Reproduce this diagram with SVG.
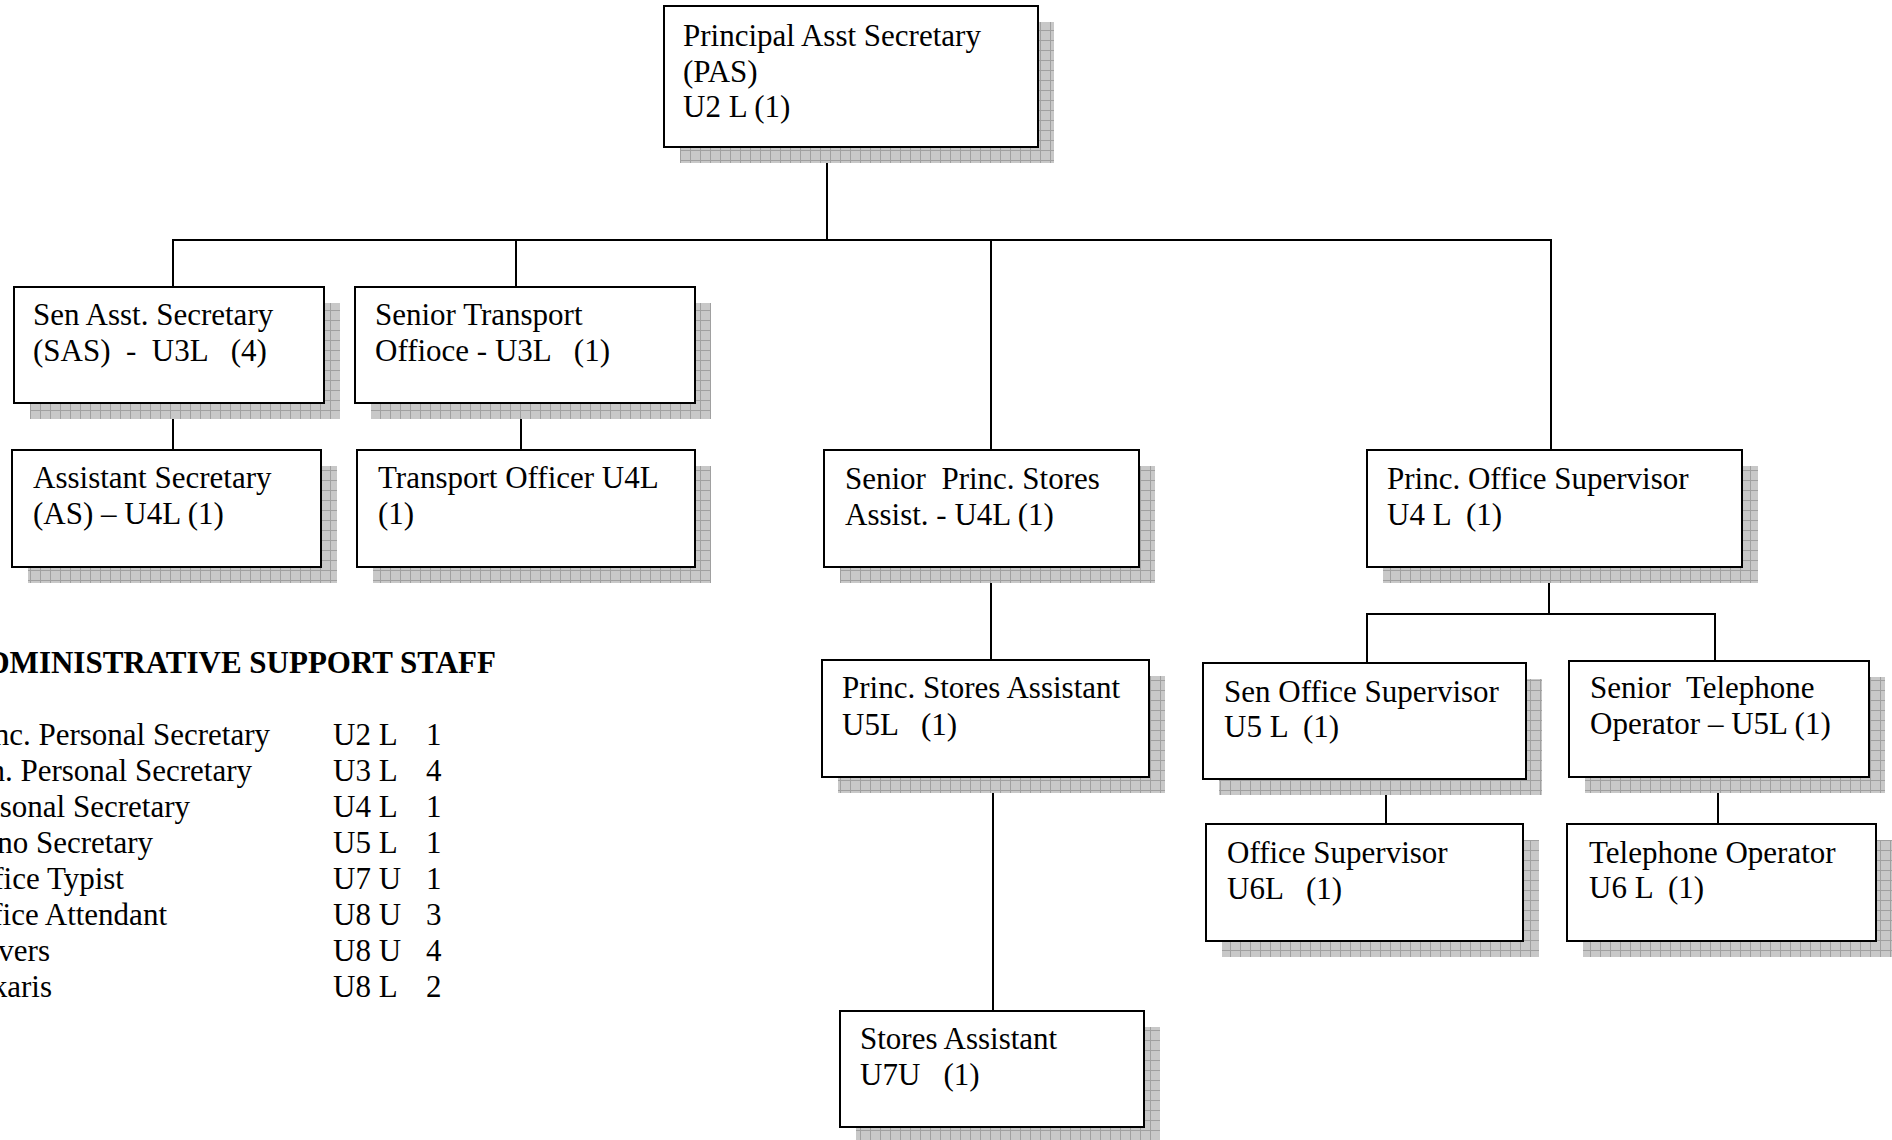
<svg xmlns="http://www.w3.org/2000/svg" width="1892" height="1140" viewBox="0 0 1892 1140">
<defs>
<pattern id="shadowPat" patternUnits="userSpaceOnUse" width="10" height="10">
<rect width="10" height="10" fill="#c8c8c8"/>
<path d="M0 0.5H10M0.5 0V10" stroke="#a0a0a0" stroke-width="1" fill="none"/>
</pattern>
</defs>
<style>
.bg{fill:#ffffff}
.shadow{fill:url(#shadowPat)}
.box{fill:#ffffff;stroke:#000000;stroke-width:2}
.t{font-family:"Liberation Serif","Times New Roman",serif;font-size:31px;fill:#000000;white-space:pre}
.h{font-family:"Liberation Serif","Times New Roman",serif;font-size:31px;font-weight:bold;fill:#000000;white-space:pre}
.conn line{stroke:#000000;stroke-width:2}
</style>
<rect class="bg" x="0" y="0" width="1892" height="1140"/>

<g id="connectors" class="conn">
<line x1="827" y1="147" x2="827" y2="240"/>
<line x1="172" y1="240" x2="1552" y2="240"/>
<line x1="173" y1="240" x2="173" y2="287"/>
<line x1="516" y1="240" x2="516" y2="287"/>
<line x1="991" y1="240" x2="991" y2="450"/>
<line x1="1551" y1="240" x2="1551" y2="450"/>
<line x1="173" y1="403" x2="173" y2="450"/>
<line x1="521" y1="403" x2="521" y2="450"/>
<line x1="991" y1="567" x2="991" y2="660"/>
<line x1="993" y1="777" x2="993" y2="1011"/>
<line x1="1549" y1="567" x2="1549" y2="614"/>
<line x1="1366" y1="614" x2="1716" y2="614"/>
<line x1="1367" y1="614" x2="1367" y2="663"/>
<line x1="1715" y1="614" x2="1715" y2="661"/>
<line x1="1386" y1="776" x2="1386" y2="824"/>
<line x1="1718" y1="777" x2="1718" y2="824"/>
</g>

<g id="node-pas">
<rect class="shadow" x="680" y="22" width="374" height="141"/>
<rect class="box" x="664" y="6" width="374" height="141"/>
<text class="t" x="683" y="46">Principal Asst Secretary</text>
<text class="t" x="683" y="81.5">(PAS)</text>
<text class="t" x="683" y="117">U2 L (1)</text>
</g>

<g id="node-sas">
<rect class="shadow" x="30" y="303" width="310" height="116"/>
<rect class="box" x="14" y="287" width="310" height="116"/>
<text class="t" x="33" y="325">Sen Asst. Secretary</text>
<text class="t" x="33" y="361">(SAS)  -  U3L   (4)</text>
</g>

<g id="node-sto">
<rect class="shadow" x="371" y="303" width="340" height="116"/>
<rect class="box" x="355" y="287" width="340" height="116"/>
<text class="t" x="375" y="325">Senior Transport</text>
<text class="t" x="375" y="361">Offioce - U3L   (1)</text>
</g>

<g id="node-as">
<rect class="shadow" x="28" y="466" width="309" height="117"/>
<rect class="box" x="12" y="450" width="309" height="117"/>
<text class="t" x="33" y="488">Assistant Secretary</text>
<text class="t" x="33" y="524">(AS) – U4L (1)</text>
</g>

<g id="node-to">
<rect class="shadow" x="373" y="466" width="338" height="117"/>
<rect class="box" x="357" y="450" width="338" height="117"/>
<text class="t" x="378" y="488">Transport Officer U4L</text>
<text class="t" x="378" y="524">(1)</text>
</g>

<g id="node-spsa">
<rect class="shadow" x="840" y="466" width="315" height="117"/>
<rect class="box" x="824" y="450" width="315" height="117"/>
<text class="t" x="845" y="489">Senior  Princ. Stores</text>
<text class="t" x="845" y="525">Assist. - U4L (1)</text>
</g>

<g id="node-pos">
<rect class="shadow" x="1383" y="466" width="375" height="117"/>
<rect class="box" x="1367" y="450" width="375" height="117"/>
<text class="t" x="1387" y="489">Princ. Office Supervisor</text>
<text class="t" x="1387" y="525">U4 L  (1)</text>
</g>

<g id="node-psa">
<rect class="shadow" x="838" y="676" width="327" height="117"/>
<rect class="box" x="822" y="660" width="327" height="117"/>
<text class="t" x="842" y="698">Princ. Stores Assistant</text>
<text class="t" x="842" y="735">U5L   (1)</text>
</g>

<g id="node-sos">
<rect class="shadow" x="1219" y="679" width="323" height="116"/>
<rect class="box" x="1203" y="663" width="323" height="116"/>
<text class="t" x="1224" y="702">Sen Office Supervisor</text>
<text class="t" x="1224" y="737">U5 L  (1)</text>
</g>

<g id="node-sto2">
<rect class="shadow" x="1585" y="677" width="300" height="116"/>
<rect class="box" x="1569" y="661" width="300" height="116"/>
<text class="t" x="1590" y="698">Senior  Telephone</text>
<text class="t" x="1590" y="734">Operator – U5L (1)</text>
</g>

<g id="node-os">
<rect class="shadow" x="1222" y="840" width="317" height="117"/>
<rect class="box" x="1206" y="824" width="317" height="117"/>
<text class="t" x="1227" y="863">Office Supervisor</text>
<text class="t" x="1227" y="899">U6L   (1)</text>
</g>

<g id="node-top">
<rect class="shadow" x="1583" y="840" width="309" height="117"/>
<rect class="box" x="1567" y="824" width="309" height="117"/>
<text class="t" x="1589" y="863">Telephone Operator</text>
<text class="t" x="1589" y="898">U6 L  (1)</text>
</g>

<g id="node-sa">
<rect class="shadow" x="856" y="1027" width="304" height="116"/>
<rect class="box" x="840" y="1011" width="304" height="116"/>
<text class="t" x="860" y="1049">Stores Assistant</text>
<text class="t" x="860" y="1085">U7U   (1)</text>
</g>

<g id="support-staff">
<text class="h" x="496" y="673" text-anchor="end">DMINISTRATIVE SUPPORT STAFF</text>
<text class="t" x="270" y="745" text-anchor="end">nc. Personal Secretary</text>
<text class="t" x="252" y="781" text-anchor="end">n. Personal Secretary</text>
<text class="t" x="190" y="817" text-anchor="end">sonal Secretary</text>
<text class="t" x="153" y="853" text-anchor="end">no Secretary</text>
<text class="t" x="124" y="889" text-anchor="end">fice Typist</text>
<text class="t" x="167" y="925" text-anchor="end">fice Attendant</text>
<text class="t" x="50" y="961" text-anchor="end">vers</text>
<text class="t" x="52" y="997" text-anchor="end">karis</text>
<text class="t" x="333" y="745">U2 L</text>
<text class="t" x="333" y="781">U3 L</text>
<text class="t" x="333" y="817">U4 L</text>
<text class="t" x="333" y="853">U5 L</text>
<text class="t" x="333" y="889">U7 U</text>
<text class="t" x="333" y="925">U8 U</text>
<text class="t" x="333" y="961">U8 U</text>
<text class="t" x="333" y="997">U8 L</text>
<text class="t" x="426" y="745">1</text>
<text class="t" x="426" y="781">4</text>
<text class="t" x="426" y="817">1</text>
<text class="t" x="426" y="853">1</text>
<text class="t" x="426" y="889">1</text>
<text class="t" x="426" y="925">3</text>
<text class="t" x="426" y="961">4</text>
<text class="t" x="426" y="997">2</text>
</g>
</svg>
